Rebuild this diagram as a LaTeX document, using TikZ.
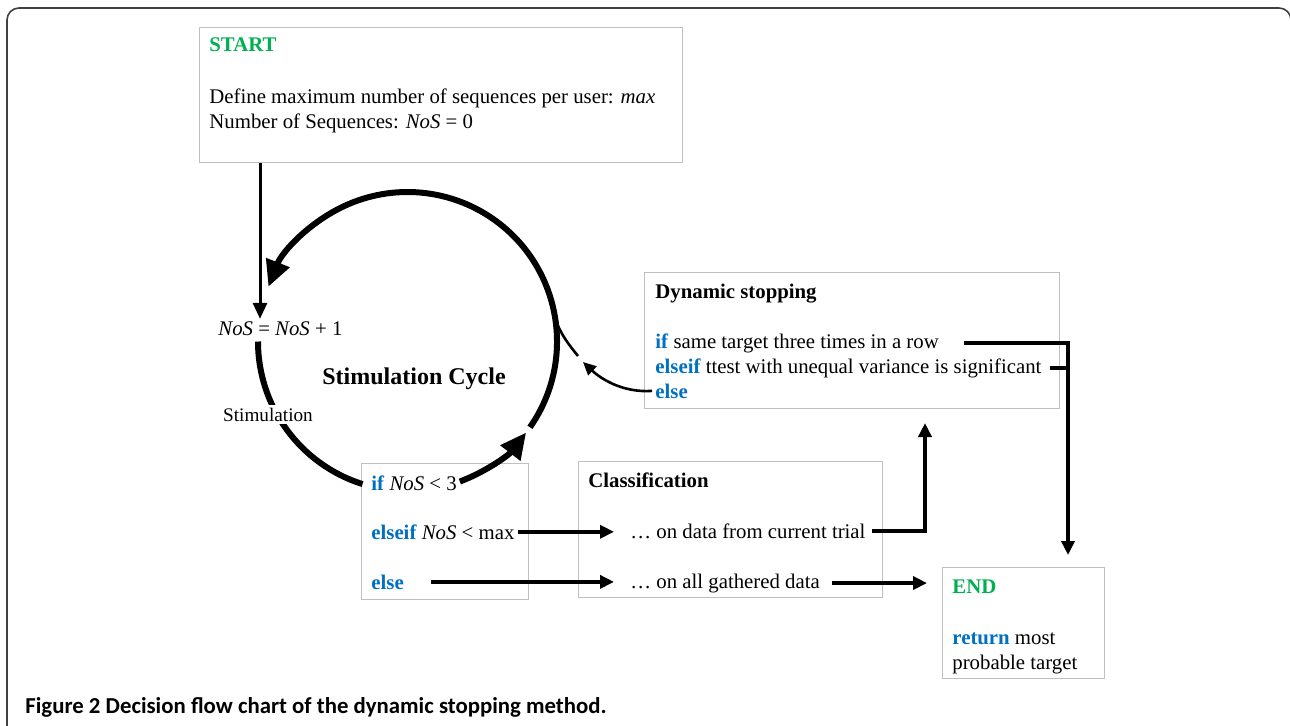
\documentclass[tikz,border=0pt]{standalone}
\usepackage{fontspec}
\setmainfont{Liberation Serif}
\newfontfamily\capfont{Carlito}
\usetikzlibrary{arrows.meta,calc}
\definecolor{kwblue}{HTML}{0070C0}
\definecolor{kwgreen}{HTML}{00B050}
\definecolor{boxgray}{HTML}{BFBFBF}
\definecolor{framegray}{HTML}{404040}
\newcommand\kwd[1]{\textcolor{kwblue}{\textbf{#1}}}
\begin{document}
\begin{tikzpicture}[x=0.5pt,y=-0.5pt,
  box/.style={draw=boxgray,line width=0.6pt,anchor=north west,inner sep=0pt},
  txt/.style={anchor=base west,inner sep=0pt,font=\fontsize{10.4}{12}\selectfont},
  ttl/.style={anchor=base west,inner sep=0pt,font=\fontsize{10.4}{12}\selectfont\bfseries},
  cyc/.style={line width=3pt},
  bigtip/.style={-{Triangle[length=13pt,width=12pt]}},
  arr/.style={line width=2pt,-{Triangle[length=7pt,width=6.5pt]}},
  conn/.style={line width=2pt},
]
\useasboundingbox (0,0) rectangle (1290,725);
% outer frame
\draw[framegray,line width=0.8pt,rounded corners=6pt] (7,8) rectangle (1291,760);

% boxes
\node[box,minimum width=241.5pt,minimum height=67.5pt] (startbox) at (199,27) {};
\node[box,minimum width=207.5pt,minimum height=68pt] (dynbox) at (644,272) {};
\node[box,minimum width=83.5pt,minimum height=68pt] (ifbox) at (361,463) {};
\node[box,minimum width=152pt,minimum height=68pt] (clsbox) at (578,461) {};
\node[box,minimum width=81pt,minimum height=55.5pt] (endbox) at (942,567) {};

% START box text
\node[ttl,text=kwgreen] (starttitle) at (209,51) {START};
\node[txt] (def) at (209,103) {Define maximum number of sequences per user: \textit{max}};
\node[txt] (nos0) at (209,128) {Number of Sequences: \textit{NoS} = 0};

% Dynamic stopping text
\node[ttl] (dyntitle) at (655,298) {Dynamic stopping};
\node[txt] (ifD) at (655,348) {\kwd{if} same target three times in a row};
\node[txt] (elseifD) at (655,373) {\kwd{elseif} ttest with unequal variance is significant};
\node[txt] (elseD) at (655,398) {\kwd{else}};

% if box text
\node[txt] (if2) at (371,490) {\kwd{if} \textit{NoS} {<} 3};
\node[txt] (elseif2) at (371,539) {\kwd{elseif} \textit{NoS} {<} max};
\node[txt] (else2) at (371,589) {\kwd{else}};

% Classification text
\node[ttl] (clstitle) at (588,487) {Classification};
\node[txt] (trial) at (630,538) {\dots\ on data from current trial};
\node[txt] (alldata) at (630,588) {\dots\ on all gathered data};

% END text
\node[ttl,text=kwgreen] (endtitle) at (952,593) {END};
\node[txt] (ret) at (952,644) {\kwd{return} most};
\node[txt] (prob) at (952,669) {probable target};

% cycle
\coordinate (c) at (407.5,341.5);
\def\R{74.75pt}
\node[txt] (nosinc) at (218,335) {\textit{NoS} = \textit{NoS} + 1};
\node[font=\fontsize{12}{14}\selectfont\bfseries,anchor=base,inner sep=0pt] (cyclbl) at (414,384) {Stimulation Cycle};

\draw[cyc,bigtip] ($(c)+(-35:\R)$) arc[start angle=-35,end angle=158.5,radius=\R];
\draw[cyc] ($(c)+(180:\R)$) arc[start angle=180,end angle=252.5,radius=\R];
\draw[cyc,bigtip] ($(c)+(-69.5:\R)$) arc[start angle=-69.5,end angle=-37.5,radius=\R];
\node[txt,anchor=base,fill=white,inner sep=1.5pt,font=\fontsize{9.6}{11}\selectfont] (stimlbl) at (268,421) {Stimulation};

% start arrow
\coordinate (sx) at (260,0);
\draw[line width=1.5pt,-{Triangle[length=8pt,width=7pt]}] (sx |- startbox.south) -- ($(sx |- nosinc.north)+(0,-2)$);

% else return arrow
\coordinate (rtip) at (583,362);
\draw[line width=1.3pt,-{Triangle[length=6.5pt,width=6pt]}] ($(elseD.west)+(-3,0)$) .. controls (622,393) and (600,378) .. (rtip);
\draw[line width=1.3pt] (578,356) .. controls (570,346) and (560,334) .. ($(c)+(9:\R)$);

% right side to END
\coordinate (r1) at (1068,0);
\draw[arr] ($(ifD.east)+(25,0)$) -- (r1 |- ifD.east) -- ($(r1 |- endbox.north)+(0,-12)$);
\draw[conn] ($(elseifD.east)+(8,0)$) -- (r1 |- elseifD.east);

% classification arrows
\coordinate (r2) at (925,423);
\draw[arr] ($(trial.east)+(6,0)$) -| (r2);
\draw[arr] ($(elseif2.east)+(3,0)$) -- ($(elseif2.east -| trial.west)+(-16,0)$);
\draw[arr] ($(else2.east)+(27,0)$) -- ($(else2.east -| alldata.west)+(-16,0)$);
\draw[arr] ($(alldata.east)+(12,0)$) -- ($(alldata.east -| endbox.west)+(-15,0)$);

% caption
\node[anchor=base west,inner sep=0pt,font=\capfont\bfseries\fontsize{11.4}{13}\selectfont,text=black] (cap) at (25,713) {Figure 2 Decision flow chart of the dynamic stopping method.};
\end{tikzpicture}
\end{document}
